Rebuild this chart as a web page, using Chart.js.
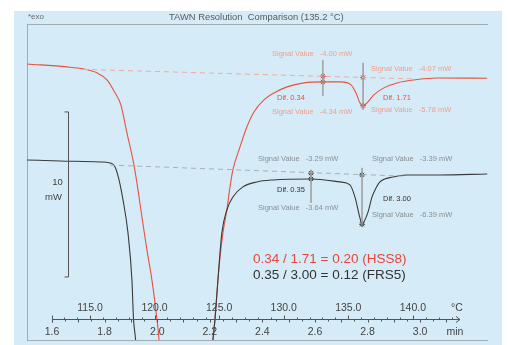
<!DOCTYPE html>
<html><head><meta charset="utf-8">
<script src="https://cdn.jsdelivr.net/npm/chart.js@4/dist/chart.umd.min.js"></script>
<style>html,body{margin:0;padding:0;background:#fff;}canvas{display:block;}</style>
</head><body>
<canvas id="c" width="508" height="345"></canvas>
<script>
// ---- data (time in min, heat flow in mW) ----
const redTime = [1.505,1.657,1.718,1.771,1.809,1.840,1.862,1.885,1.908,1.923,1.942,1.961,1.980,1.999,2.007,2.022,2.106,2.193,2.212,2.220,2.231,2.239,2.250,2.265,2.277,2.288,2.315,2.341,2.368,2.406,2.444,2.494,2.558,2.630,2.699,2.737,2.756,2.771,2.783,2.798,2.824,2.862,2.912,2.976,3.064,3.255];
const redSignal = [-3.25,-3.43,-3.55,-3.79,-4.22,-5.01,-5.73,-7.43,-9.07,-10.46,-12.52,-14.52,-16.34,-18.70,-19.98,-24.8,-30.9,-24.8,-19.98,-18.70,-16.34,-14.95,-13.49,-12.10,-10.70,-9.67,-8.28,-7.07,-6.16,-5.43,-5.01,-4.64,-4.40,-4.34,-4.34,-4.52,-5.01,-5.61,-5.78,-5.61,-5.13,-4.70,-4.40,-4.22,-4.10,-4.12];
const blkTime = [1.505,1.630,1.782,1.821,1.840,1.855,1.870,1.889,1.904,1.910,1.918,1.935,2.049,2.182,2.212,2.220,2.231,2.246,2.265,2.288,2.326,2.379,2.440,2.585,2.695,2.733,2.752,2.771,2.779,2.790,2.802,2.817,2.832,2.847,2.897,2.950,3.075,3.255];
const blkSignal = [-2.49,-2.55,-2.61,-2.67,-2.91,-3.70,-4.91,-6.91,-9.76,-12.12,-13.40,-18.25,-23.1,-18.25,-13.40,-12.12,-9.76,-6.91,-5.52,-4.73,-4.12,-3.82,-3.70,-3.64,-3.82,-4.00,-4.73,-6.00,-6.39,-6.12,-5.64,-4.73,-4.19,-3.82,-3.52,-3.40,-3.40,-3.34];

// evaluation markers
const redMarkT = [2.630, 2.783];
const redBaseVal = [-4.00, -4.07];
const redSigVal = [-4.34, -5.78];
const blkMarkT = [2.585, 2.779];
const blkBaseVal = [-3.29, -3.39];
const blkSigVal = [-3.64, -6.39];
const redGuideTop = [-3.01, -3.19], redGuideBot = [-5.19, -6.04];
const blkGuideTop = [-3.09, -2.97], blkGuideBot = [-5.09, -6.43];

// dashed baselines
const redBaseT = [1.718, 2.976], redBaseV = [-3.58, -4.16];
const blkBaseT = [1.821, 2.935], blkBaseV = [-2.80, -3.47];

// axes
const minTicks = [1.6, 1.8, 2.0, 2.2, 2.4, 2.6, 2.8, 3.0];
const tempTicks = [115.0, 120.0, 125.0, 130.0, 135.0, 140.0];
const tempStart = 115.0, timeAtTempStart = 1.7445, heatRate = 20.36; // °C/min
const scaleBarT = 1.661, scaleBarTop = -6.16, scaleBarSpan = 10; // mW

const titleText = 'TAWN Resolution  Comparison (135.2 °C)';
const redName = 'HSS8', blkName = 'FRS5';

// ---- build ----
const pts = (xs, ys) => xs.map((x, i) => ({x: x, y: ys[i]}));
const guide = (t, a, b, axis) => ({data: [{x: t, y: a}, {x: t, y: b}], yAxisID: axis, borderColor: '#a0a0a0', borderWidth: 0.8, pointRadius: 0});

const datasets = [
  {data: pts(redBaseT, redBaseV), yAxisID: 'yR', borderColor: '#f2ab9c', borderWidth: 1, borderDash: [5, 4], pointRadius: 0},
  {data: pts(blkBaseT, blkBaseV), yAxisID: 'yB', borderColor: '#a9b0b4', borderWidth: 1, borderDash: [5, 4], pointRadius: 0},
  ...redMarkT.map((t, i) => guide(t, redGuideTop[i], redGuideBot[i], 'yR')),
  ...blkMarkT.map((t, i) => guide(t, blkGuideTop[i], blkGuideBot[i], 'yB')),
  {data: pts(blkTime, blkSignal), yAxisID: 'yB', borderColor: '#3a3a3a', borderWidth: 1.1, pointRadius: 0, cubicInterpolationMode: 'monotone'},
  {data: pts(redTime, redSignal), yAxisID: 'yR', borderColor: '#e8523c', borderWidth: 1.1, pointRadius: 0, cubicInterpolationMode: 'monotone'},
  {data: pts(redMarkT.concat(redMarkT), redBaseVal.concat(redSigVal)), yAxisID: 'yR', showLine: false, pointStyle: 'star', pointRadius: 2.8, borderColor: '#c84030', borderWidth: 1},
  {data: pts(blkMarkT.concat(blkMarkT), blkBaseVal.concat(blkSigVal)), yAxisID: 'yB', showLine: false, pointStyle: 'star', pointRadius: 2.8, borderColor: '#333', borderWidth: 1}
];

const FONT = '"Liberation Sans", Arial, Helvetica, sans-serif';
function txt(ctx, s, x, y, size, color, align) {
  ctx.font = size + 'px ' + FONT;
  ctx.fillStyle = color;
  ctx.textAlign = align || 'left';
  ctx.textBaseline = 'middle';
  ctx.fillText(s, x, y);
}

const decor = {
  id: 'decor',
  beforeDraw(chart) {
    const c = chart.ctx;
    c.save();
    c.fillStyle = '#ffffff';
    c.fillRect(0, 0, chart.width, chart.height);
    c.fillStyle = '#d5ebf8';
    c.fillRect(14, 11, 488, 334);
    c.restore();
  },
  beforeDatasetsDraw(chart) {
    const c = chart.ctx, a = chart.chartArea;
    c.save();
    c.strokeStyle = '#a4acb0';
    c.lineWidth = 1;
    c.beginPath();
    c.moveTo(a.left, a.top + 0.5); c.lineTo(a.right, a.top + 0.5);
    c.moveTo(a.left + 0.5, a.top); c.lineTo(a.left + 0.5, a.bottom);
    c.moveTo(a.left, a.bottom + 0.5); c.lineTo(a.right, a.bottom + 0.5);
    c.stroke();
    c.restore();
  },
  afterDatasetsDraw(chart) {
    const c = chart.ctx, a = chart.chartArea;
    const x = chart.scales.x, yR = chart.scales.yR, yB = chart.scales.yB;
    c.save();
    // title
    txt(c, '*exo', a.left + 1, 17, 8, '#6a6a6a');
    txt(c, titleText, 169, 17, 9.4, '#5a5a5a');

    // scale bar
    const sx = Math.round(x.getPixelForValue(scaleBarT)) + 0.5;
    const st = yR.getPixelForValue(scaleBarTop), sb = yR.getPixelForValue(scaleBarTop - scaleBarSpan);
    c.strokeStyle = '#555'; c.lineWidth = 1;
    c.beginPath();
    c.moveTo(sx - 4, st); c.lineTo(sx, st); c.lineTo(sx, sb); c.lineTo(sx - 4, sb);
    c.stroke();
    txt(c, String(scaleBarSpan), sx - 11, (st + sb) / 2 - 12, 9.5, '#444', 'center');
    txt(c, 'mW', sx - 15, (st + sb) / 2 + 3, 9.5, '#444', 'center');

    // inline axis
    const ay = 319.5;
    const x0 = x.getPixelForValue(minTicks[0]);
    const xEnd = 460;
    c.strokeStyle = '#555'; c.lineWidth = 1;
    c.beginPath();
    c.moveTo(x0, ay); c.lineTo(xEnd, ay);
    c.moveTo(x0 + 0.5, ay - 4); c.lineTo(x0 + 0.5, ay + 3);
    c.stroke();
    // arrow
    c.beginPath();
    c.moveTo(xEnd - 4, ay - 3); c.lineTo(xEnd, ay); c.lineTo(xEnd - 4, ay + 3);
    c.stroke();
    // minute ticks
    c.beginPath();
    for (let k = 0; ; k++) {
      const t = minTicks[0] + k * 0.05;
      const px = Math.round(x.getPixelForValue(t)) + 0.5;
      if (px > xEnd - 6) break;
      const major = k % 2 === 0;
      c.moveTo(px, ay); c.lineTo(px, ay + (major ? 3 : 2));
    }
    // temperature ticks
    for (let T = 113; T <= 143; T++) {
      const px = Math.round(x.getPixelForValue(timeAtTempStart + (T - tempStart) / heatRate)) + 0.5;
      if (px < x0 || px > xEnd - 6) continue;
      const major = T % 5 === 0;
      c.moveTo(px, ay); c.lineTo(px, ay - (major ? 4 : 2));
    }
    c.stroke();
    tempTicks.forEach(T => {
      const px = x.getPixelForValue(timeAtTempStart + (T - tempStart) / heatRate);
      txt(c, T.toFixed(1), px, 308, 10.5, '#444', 'center');
    });
    txt(c, '°C', 457, 308, 10.5, '#444', 'center');
    minTicks.forEach(t => {
      txt(c, t.toFixed(1), x.getPixelForValue(t), 332, 10.5, '#444', 'center');
    });
    txt(c, 'min', 455, 332, 10.5, '#444', 'center');

    // annotations red
    const sv = v => 'Signal Value   ' + v.toFixed(2) + ' mW';
    const rc = '#f0a08c', rd = '#e2553f';
    txt(c, sv(redBaseVal[0]), 272, 54, 7.5, rc);
    txt(c, sv(redBaseVal[1]), 371, 69, 7.5, rc);
    txt(c, 'Dif. ' + (redBaseVal[0] - redSigVal[0]).toFixed(2), 277, 98, 7.5, rd);
    txt(c, sv(redSigVal[0]), 272, 112, 7.5, rc);
    txt(c, 'Dif. ' + (redBaseVal[1] - redSigVal[1]).toFixed(2), 383, 98, 7.5, rd);
    txt(c, sv(redSigVal[1]), 371, 110, 7.5, rc);
    // annotations black
    const bc = '#8a9094', bd = '#333';
    txt(c, sv(blkBaseVal[0]), 258, 159, 7.5, bc);
    txt(c, sv(blkBaseVal[1]), 372, 159, 7.5, bc);
    txt(c, 'Dif. ' + (blkBaseVal[0] - blkSigVal[0]).toFixed(2), 277, 190, 7.5, bd);
    txt(c, sv(blkSigVal[0]), 258, 208, 7.5, bc);
    txt(c, 'Dif. ' + (blkBaseVal[1] - blkSigVal[1]).toFixed(2), 383, 199, 7.5, bd);
    txt(c, sv(blkSigVal[1]), 372, 215, 7.5, bc);

    // ratios
    const r1 = redBaseVal[0] - redSigVal[0], r2 = redBaseVal[1] - redSigVal[1];
    const b1 = blkBaseVal[0] - blkSigVal[0], b2 = blkBaseVal[1] - blkSigVal[1];
    txt(c, r1.toFixed(2) + ' / ' + r2.toFixed(2) + ' = ' + (r1 / r2).toFixed(2) + ' (' + redName + ')', 253, 259, 13.5, '#e8463a');
    txt(c, b1.toFixed(2) + ' / ' + b2.toFixed(2) + ' = ' + (b1 / b2).toFixed(2) + ' (' + blkName + ')', 253, 275, 13.5, '#333');
    c.restore();
  }
};

new Chart(document.getElementById('c'), {
  type: 'line',
  data: {datasets: datasets},
  options: {
    responsive: false,
    animation: false,
    devicePixelRatio: 1,
    layout: {padding: {left: 27, right: 20, top: 24, bottom: 5}},
    plugins: {legend: {display: false}, tooltip: {enabled: false}},
    scales: {
      x: {type: 'linear', min: 1.505, max: 3.258, display: false},
      yR: {type: 'linear', min: -19.98, max: -0.83, display: false},
      yB: {type: 'linear', min: -13.40, max: 5.75, display: false}
    }
  },
  plugins: [decor]
});
</script>
</body></html>
